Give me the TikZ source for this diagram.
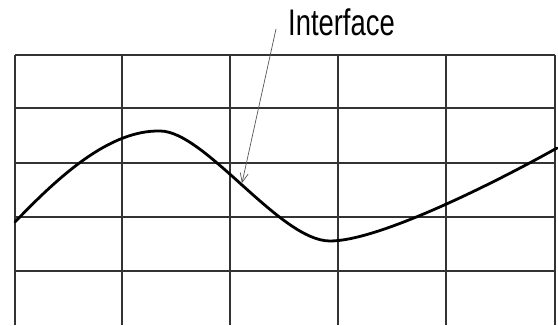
\documentclass[tikz,border=0pt]{standalone}
\usepackage{fontspec}
\usepackage{graphicx}
\setmainfont{Liberation Sans}
\usetikzlibrary{arrows.meta}
\definecolor{gridgray}{HTML}{333333}
\definecolor{pointgray}{HTML}{555555}
\newcommand{\narrow}[1]{\scalebox{0.74}[1]{#1}}

\begin{document}
\begin{tikzpicture}[
  x=1pt, y=-1pt,
  gridline/.style={draw=gridgray, line width=1.2pt},
  profile/.style={draw=black, line width=2.8pt, line cap=round},
  pointer/.style={draw=pointgray, line width=0.7pt, -{Straight Barb[length=9pt,width=8pt]}},
  tag/.style={font=\fontsize{37}{40}\selectfont, inner sep=0pt, anchor=base west}
]
\useasboundingbox (0,0) rectangle (558,325);

% grid
\foreach \gx in {15,122,230,338,446,555}
  \draw[gridline] (\gx,55) -- (\gx,325);
\foreach \gy in {55,108,163,217,271}
  \draw[gridline] (15,\gy) -- (555,\gy);

% interface curve
\draw[profile] (15,222) .. controls (60,175) and (110,130) .. (160,131)
  .. controls (205,131) and (280,241) .. (330,241)
  .. controls (380,241) and (500,180) .. (557,148);

% label
\node[tag] (label) at (288,35) {\narrow{Interface}};
\coordinate (tip) at (242,183);
\draw[pointer] ([shift={(-12pt,6pt)}]label.base west) -- (tip);
\end{tikzpicture}
\end{document}
